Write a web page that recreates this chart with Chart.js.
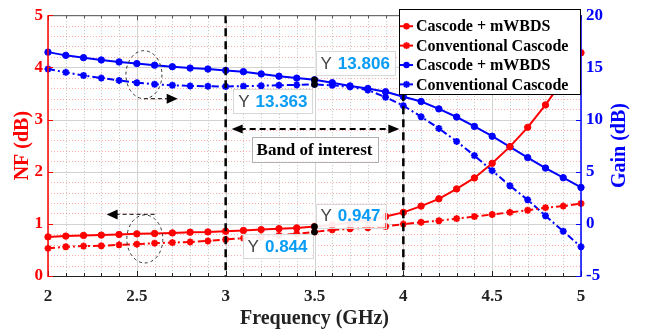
<!DOCTYPE html>
<html><head><meta charset="utf-8">
<script src="https://cdn.jsdelivr.net/npm/chart.js@4.4.1/dist/chart.umd.min.js"></script>
<style>html,body{margin:0;padding:0;background:#fff;}#wrap{width:649px;height:331px;position:relative;}</style>
</head><body><div id="wrap"><canvas id="c" width="649" height="331"></canvas></div>
<script>
// ---------- data ----------
const freq = [2.0,2.1,2.2,2.3,2.4,2.5,2.6,2.7,2.8,2.9,3.0,3.1,3.2,3.3,3.4,3.5,3.6,3.7,3.8,3.9,4.0,4.1,4.2,4.3,4.4,4.5,4.6,4.7,4.8,4.9,5.0];
const nfMwbds = [0.75,0.765,0.778,0.784,0.796,0.808,0.815,0.826,0.84,0.845,0.858,0.872,0.89,0.908,0.922,0.947,0.98,1.02,1.07,1.14,1.22,1.34,1.48,1.67,1.88,2.16,2.48,2.85,3.28,3.76,4.28];
const nfConv = [0.53,0.56,0.573,0.578,0.597,0.61,0.629,0.64,0.653,0.672,0.70,0.725,0.75,0.78,0.81,0.844,0.885,0.905,0.925,0.95,0.995,1.03,1.06,1.10,1.14,1.18,1.22,1.26,1.31,1.34,1.39];
const gainMwbds = [16.46,16.15,15.93,15.71,15.52,15.36,15.21,15.06,14.93,14.84,14.71,14.59,14.37,14.15,13.97,13.806,13.53,13.22,12.97,12.66,12.19,11.73,11.02,10.24,9.34,8.4,7.38,6.35,5.35,4.42,3.49];
const gainConv = [14.84,14.52,14.22,13.97,13.75,13.53,13.38,13.29,13.22,13.19,13.16,13.2,13.24,13.28,13.32,13.363,13.28,13.13,12.82,12.14,11.33,10.27,9.15,7.9,6.54,5.1,3.65,2.3,0.78,-0.71,-2.2];
const seriesLabels = ['Cascode + mWBDS','Conventional Cascode','Cascode + mWBDS','Conventional Cascode'];
const xRange = [2,5];
const nfRange = [0,5];
const gainRange = [-5,20];
const xTickStep = 0.5, xMinorStep = 0.1;
const nfTickStep = 1, nfMinorStep = 0.2;
const gainTickStep = 5;
const bandEdges = [3,4];
const bandLabel = 'Band of interest';
const markFreq = 3.5;
const xTitle = 'Frequency (GHz)', nfTitle = 'NF (dB)', gainTitle = 'Gain (dB)';
// ellipse callouts (data coords: freq, NF)
const callouts = [{cx:2.54, cy:3.86, ax0:2.54, ax1:2.73, ay:3.40}, {cx:2.545, cy:0.71, ax0:2.6, ax1:2.33, ay:1.18}];
const bandArrowNF = 2.82, bandTextNF = 2.43;

const RED = '#ff0000', BLUE = '#0000ff';
const SERIF = '"Liberation Serif","Times New Roman",serif';
const SANS = '"Liberation Sans",Arial,sans-serif';
const seriesData = [nfMwbds, nfConv, gainMwbds, gainConv];
const seriesAxis = ['y','y','y1','y1'];
const seriesColor = [RED, RED, BLUE, BLUE];
const seriesDashed = [false,true,false,true];
const DASH = [7,3,2,3];

const datasets = seriesData.map((arr,i)=>({
  label: seriesLabels[i],
  data: freq.map((f,k)=>({x:f,y:arr[k]})),
  yAxisID: seriesAxis[i],
  borderColor: seriesColor[i],
  backgroundColor: seriesColor[i],
  borderWidth: 2,
  borderDash: seriesDashed[i] ? DASH : [],
  pointStyle: seriesDashed[i] ? 'star' : 'circle',
  pointRadius: seriesDashed[i] ? 3.5 : 3.2,
  pointBorderWidth: seriesDashed[i] ? 2 : 1,
  pointBorderColor: seriesColor[i],
  pointBackgroundColor: seriesColor[i],
  tension: 0,
  clip: false
}));

function line(ctx,x0,y0,x1,y1){ctx.beginPath();ctx.moveTo(x0,y0);ctx.lineTo(x1,y1);ctx.stroke();}
function arrowHead(ctx,x,y,dir,len,hw){ctx.beginPath();ctx.moveTo(x,y);ctx.lineTo(x-dir*len,y-hw);ctx.lineTo(x-dir*len,y+hw);ctx.closePath();ctx.fill();}
function steps(a,b,s){const out=[];const n=Math.round((b-a)/s);for(let k=0;k<=n;k++)out.push(+(a+k*s).toFixed(6));return out;}

const gridPlugin = {
  id:'grid',
  beforeDatasetsDraw(chart){
    const {ctx, chartArea:a, scales:{x,y}} = chart;
    ctx.save();
    ctx.lineWidth = 1;
    ctx.setLineDash([1,2]);
    ctx.strokeStyle = 'rgba(140,140,140,0.55)';
    steps(xRange[0],xRange[1],xMinorStep).forEach(v=>{
      if (Math.abs(v/xTickStep-Math.round(v/xTickStep))<1e-6) return;
      const p = Math.round(x.getPixelForValue(v))+0.5; line(ctx,p,a.top,p,a.bottom);
    });
    ctx.strokeStyle = 'rgba(255,90,90,0.5)';
    steps(nfRange[0],nfRange[1],nfMinorStep).forEach(v=>{
      if (Math.abs(v/nfTickStep-Math.round(v/nfTickStep))<1e-6) return;
      const p = Math.round(y.getPixelForValue(v))+0.5; line(ctx,a.left,p,a.right,p);
    });
    ctx.setLineDash([]);
    ctx.strokeStyle = '#d2d2d2';
    steps(xRange[0],xRange[1],xTickStep).forEach(v=>{const p=Math.round(x.getPixelForValue(v))+0.5; line(ctx,p,a.top,p,a.bottom);});
    steps(nfRange[0],nfRange[1],nfTickStep).forEach(v=>{const p=Math.round(y.getPixelForValue(v))+0.5; line(ctx,a.left,p,a.right,p);});
    ctx.restore();
  }
};

const annoPlugin = {
  id:'anno',
  afterDatasetsDraw(chart){
    const {ctx, chartArea:a, scales:{x,y,y1}} = chart;
    ctx.save();
    // band edges
    ctx.strokeStyle = '#000'; ctx.lineWidth = 2.5; ctx.setLineDash([8,5]);
    bandEdges.forEach(v=>{const p=x.getPixelForValue(v); line(ctx,p,a.top,p,a.bottom);});
    // band arrow
    const ay = y.getPixelForValue(bandArrowNF);
    const bx0 = x.getPixelForValue(bandEdges[0])+6, bx1 = x.getPixelForValue(bandEdges[1])-4;
    ctx.lineWidth = 2; ctx.setLineDash([6,4]);
    line(ctx,bx0+8,ay,bx1-8,ay);
    ctx.setLineDash([]); ctx.fillStyle='#000';
    arrowHead(ctx,bx0,ay,-1,11,4.5); arrowHead(ctx,bx1,ay,1,11,4.5);
    // band label
    const bcx = x.getPixelForValue((bandEdges[0]+bandEdges[1])/2), bcy = y.getPixelForValue(bandTextNF);
    ctx.font = 'bold 17px '+SERIF;
    const bw = ctx.measureText(bandLabel).width + 10;
    ctx.fillStyle = 'rgba(255,255,255,0.9)';
    ctx.fillRect(bcx-bw/2, bcy-12.5, bw, 25);
    ctx.strokeStyle = '#b0b0b0'; ctx.lineWidth = 1;
    ctx.strokeRect(Math.round(bcx-bw/2)+0.5, Math.round(bcy-12.5)+0.5, Math.round(bw), 25);
    ctx.fillStyle = '#000'; ctx.textAlign='center'; ctx.textBaseline='middle';
    ctx.fillText(bandLabel, bcx, bcy+1);
    // callouts
    callouts.forEach(c=>{
      const cx = x.getPixelForValue(c.cx), cy = y.getPixelForValue(c.cy);
      ctx.strokeStyle = '#333'; ctx.lineWidth = 1; ctx.setLineDash([3,3]);
      ctx.beginPath(); ctx.ellipse(cx,cy,18,24,0,0,Math.PI*2); ctx.stroke();
      const x0 = x.getPixelForValue(c.ax0), x1 = x.getPixelForValue(c.ax1), yy = y.getPixelForValue(c.ay);
      const dir = Math.sign(x1-x0);
      ctx.lineWidth = 1.2; ctx.setLineDash([4,3]);
      line(ctx,x0,yy,x1-dir*9,yy);
      ctx.setLineDash([]); ctx.fillStyle='#000';
      arrowHead(ctx,x1,yy,dir,11,5);
    });
    ctx.restore();
  },
  afterDraw(chart){
    const {ctx, chartArea:a, scales:{x,y,y1}} = chart;
    ctx.save();
    // axes lines and inward ticks
    ctx.setLineDash([]);
    ctx.strokeStyle = '#222'; ctx.lineWidth = 1;
    line(ctx,a.left,a.bottom+0.5,a.right,a.bottom+0.5);
    ctx.strokeStyle = '#555';
    line(ctx,a.left,a.top+0.5,a.right,a.top+0.5);
    steps(xRange[0],xRange[1],xMinorStep).forEach(v=>{
      const major = Math.abs(v/xTickStep-Math.round(v/xTickStep))<1e-6;
      const p = Math.round(x.getPixelForValue(v))+0.5, L = major?5:3;
      ctx.strokeStyle = '#222'; line(ctx,p,a.bottom,p,a.bottom-L);
      ctx.strokeStyle = '#555'; line(ctx,p,a.top,p,a.top+L);
    });
    ctx.strokeStyle = RED; ctx.lineWidth = 1.5;
    line(ctx,a.left,a.top,a.left,a.bottom+1);
    ctx.lineWidth = 1;
    steps(nfRange[0],nfRange[1],nfTickStep).forEach(v=>{const p=Math.round(y.getPixelForValue(v))+0.5; line(ctx,a.left,p,a.left+5,p);});
    ctx.strokeStyle = BLUE; ctx.lineWidth = 1.5;
    line(ctx,a.right,a.top,a.right,a.bottom+1);
    ctx.lineWidth = 1;
    steps(gainRange[0],gainRange[1],gainTickStep).forEach(v=>{const p=Math.round(y1.getPixelForValue(v))+0.5; line(ctx,a.right-5,p,a.right,p);});

    // datatips
    const idx = freq.indexOf(markFreq);
    const tips = [
      {s:0, side:'right', dy:-23},
      {s:1, side:'left', dy:2},
      {s:2, side:'right', dy:-29},
      {s:3, side:'left', dy:5}
    ];
    const px = x.getPixelForValue(markFreq);
    tips.forEach(t=>{
      const scale = seriesAxis[t.s]==='y' ? y : y1;
      const val = seriesData[t.s][idx];
      const py = scale.getPixelForValue(val);
      const txt = val.toFixed(3);
      ctx.font = '17px '+SANS; const wY = ctx.measureText('Y').width;
      ctx.font = 'bold 17px '+SANS; const wN = ctx.measureText(txt).width;
      const w = 5 + wY + 6 + wN + 5, h = 24;
      const left = t.side==='right' ? px+1 : px-2-w;
      const top = py + t.dy;
      ctx.fillStyle = 'rgba(255,255,255,0.92)';
      ctx.fillRect(left, top, w, h);
      ctx.strokeStyle = '#d8d8d8'; ctx.lineWidth = 1;
      ctx.strokeRect(Math.round(left)+0.5, Math.round(top)+0.5, Math.round(w), h);
      ctx.textAlign='left'; ctx.textBaseline='middle';
      ctx.font = '17px '+SANS; ctx.fillStyle = '#444';
      ctx.fillText('Y', left+5, top+h/2+1);
      ctx.font = 'bold 17px '+SANS; ctx.fillStyle = '#0a9cf5';
      ctx.fillText(txt, left+5+wY+6, top+h/2+1);
    });
    tips.forEach(t=>{
      const scale = seriesAxis[t.s]==='y' ? y : y1;
      const py = scale.getPixelForValue(seriesData[t.s][idx]);
      ctx.fillStyle='#000'; ctx.beginPath(); ctx.arc(px,py,3.3,0,Math.PI*2); ctx.fill();
    });

    // legend
    const lw = 181, lh = 85;
    const lx = a.right - lw - 1, ly = a.top - 6;
    ctx.fillStyle = '#fff'; ctx.fillRect(lx,ly,lw,lh);
    ctx.strokeStyle = '#000'; ctx.lineWidth = 1;
    ctx.strokeRect(Math.round(lx)+0.5, Math.round(ly)+0.5, lw, lh);
    ctx.font = 'bold 16px '+SERIF; ctx.textAlign='left'; ctx.textBaseline='middle';
    seriesLabels.forEach((lab,i)=>{
      const ry = ly + 17 + i*19.4;
      ctx.strokeStyle = seriesColor[i]; ctx.fillStyle = seriesColor[i]; ctx.lineWidth = 2;
      ctx.setLineDash([]);
      line(ctx,lx+1,ry,lx+14,ry);
      if (seriesDashed[i]) {
        ctx.lineWidth = 2; const r=3.5, cx=lx+7.5;
        line(ctx,cx-r,ry,cx+r,ry); line(ctx,cx,ry-r,cx,ry+r);
        const d=r*0.707; line(ctx,cx-d,ry-d,cx+d,ry+d); line(ctx,cx-d,ry+d,cx+d,ry-d);
      } else {
        ctx.beginPath(); ctx.arc(lx+7.5,ry,3.2,0,Math.PI*2); ctx.fill();
      }
      ctx.fillStyle = '#000';
      ctx.fillText(lab, lx+17, ry+1);
    });

    // axis titles
    ctx.font = 'bold 20px '+SERIF; ctx.textAlign='center'; ctx.textBaseline='middle';
    ctx.fillStyle = '#222';
    ctx.fillText(xTitle, (a.left+a.right)/2, 319);
    ctx.save(); ctx.translate(23, (a.top+a.bottom)/2); ctx.rotate(-Math.PI/2);
    ctx.fillStyle = RED; ctx.fillText(nfTitle,0,0); ctx.restore();
    ctx.save(); ctx.translate(620, (a.top+a.bottom)/2); ctx.rotate(-Math.PI/2);
    ctx.fillStyle = BLUE; ctx.fillText(gainTitle,0,0); ctx.restore();
    ctx.restore();
  }
};

const tickFont = {family: SERIF, weight:'bold', size:17};
new Chart(document.getElementById('c'), {
  type:'line',
  data:{datasets},
  options:{
    responsive:false, animation:false, devicePixelRatio:1,
    layout:{padding:{top:8,left:0,right:0,bottom:0}},
    plugins:{legend:{display:false}, tooltip:{enabled:false}},
    scales:{
      x:{type:'linear', position:'bottom', min:xRange[0], max:xRange[1],
         ticks:{stepSize:xTickStep, font:tickFont, color:'#222', padding:10, autoSkip:false, maxRotation:0, callback:v=>String(+v.toFixed(2))},
         grid:{display:false, drawTicks:false}, border:{display:false},
         afterFit:s=>{s.height=55;}},
      y:{type:'linear', position:'left', min:nfRange[0], max:nfRange[1],
         ticks:{stepSize:nfTickStep, font:tickFont, color:RED, padding:5, autoSkip:false, callback:v=>String(v)},
         grid:{display:false, drawTicks:false}, border:{display:false},
         afterFit:s=>{s.width=48;}},
      y1:{type:'linear', position:'right', min:gainRange[0], max:gainRange[1],
         ticks:{stepSize:gainTickStep, font:tickFont, color:BLUE, padding:5, autoSkip:false, callback:v=>String(v)},
         grid:{display:false, drawTicks:false}, border:{display:false},
         afterFit:s=>{s.width=68;}}
    }
  },
  plugins:[gridPlugin, annoPlugin]
});
</script></body></html>
